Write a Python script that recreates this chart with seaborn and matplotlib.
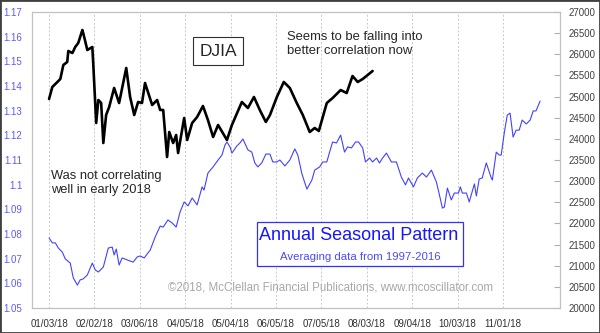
import matplotlib
matplotlib.use("Agg")
import matplotlib.pyplot as plt
import seaborn as sns
import pandas as pd
from matplotlib.patches import Rectangle

# ---- data (x = trading-day number counted from 01/03/18) ----
date_ticks_day = [0, 21, 42, 63, 84, 105, 126, 147, 168, 189, 210]
date_labels = ["01/03/18", "02/02/18", "03/06/18", "04/05/18", "05/04/18", "06/05/18",
               "07/05/18", "08/03/18", "09/04/18", "10/03/18", "11/01/18"]
left_ticks = [1.05, 1.06, 1.07, 1.08, 1.09, 1.1, 1.11, 1.12, 1.13, 1.14, 1.15, 1.16, 1.17]
left_labels = ["1.05", "1.06", "1.07", "1.08", "1.09", "1.1", "1.11", "1.12", "1.13",
               "1.14", "1.15", "1.16", "1.17"]
right_ticks = [20000, 20500, 21000, 21500, 22000, 22500, 23000, 23500, 24000, 24500,
               25000, 25500, 26000, 26500, 27000]

seasonal_day = [0, 1.5, 2.9, 4.3, 6.1, 7.5, 9.8, 11.2, 13.1, 14.4, 15.8, 17.7, 20.0, 21.4,
                22.8, 25.1, 27.4, 29.2, 30.1, 31.1, 32.4, 33.8, 36.1, 38.9, 40.8, 42.1,
                44.0, 46.8, 49.1, 51.4, 52.8, 55.0, 56.9, 58.8, 60.6, 62.5, 64.3, 66.2,
                68.5, 70.8, 71.7, 73.5, 75.9, 78.2, 80.0, 81.4, 82.3, 83.7, 84.6, 86.9,
                88.3, 89.7, 92.0, 93.8, 95.2, 96.6, 98.4, 100.3, 102.2, 103.5, 105.4,
                106.8, 109.1, 111.4, 113.7, 115.1, 116.9, 117.9, 119.3, 121.6, 122.9,
                125.2, 126.6, 128.5, 129.8, 131.2, 133.0, 134.9, 136.7, 138.1, 139.9,
                141.8, 143.2, 145.1, 146.4, 148.3, 149.7, 151.5, 152.9, 154.3, 156.1,
                158.4, 160.7, 163.0, 164.9, 166.3, 168.6, 170.4, 172.7, 174.6, 176.9,
                179.2, 180.1, 182.0, 182.9, 184.3, 186.1, 187.5, 189.4, 190.3, 191.2,
                193.1, 194.4, 196.8, 197.7, 199.0, 200.4, 202.3, 204.6, 205.1, 206.9,
                208.3, 209.2, 210.6, 212.0, 213.3, 214.7, 216.1, 217.5, 218.9, 220.8,
                222.6, 224.0, 225.3, 227.2]
seasonal_val = [1.0784, 1.0764, 1.0764, 1.0743, 1.0727, 1.0699, 1.0682, 1.0622, 1.0593,
                1.0614, 1.0618, 1.0634, 1.0682, 1.0654, 1.0646, 1.0666, 1.0743, 1.0747,
                1.0715, 1.0739, 1.0674, 1.0703, 1.0695, 1.0686, 1.0707, 1.0711, 1.0703,
                1.0735, 1.0788, 1.0832, 1.0828, 1.0857, 1.0845, 1.0828, 1.0889, 1.0930,
                1.0914, 1.0946, 1.0918, 1.0991, 1.0978, 1.1047, 1.1072, 1.1100, 1.1120,
                1.1161, 1.1173, 1.1153, 1.1128, 1.1157, 1.1169, 1.1185, 1.1141, 1.1132,
                1.1088, 1.1072, 1.1088, 1.1124, 1.1124, 1.1092, 1.1092, 1.1100, 1.1076,
                1.1100, 1.1145, 1.1120, 1.1047, 1.1019, 1.0982, 1.1019, 1.1059, 1.1072,
                1.1092, 1.1092, 1.1132, 1.1173, 1.1169, 1.1201, 1.1132, 1.1153, 1.1149,
                1.1173, 1.1173, 1.1149, 1.1092, 1.1108, 1.1092, 1.1108, 1.1088, 1.1108,
                1.1128, 1.1092, 1.1092, 1.1031, 1.0999, 1.1027, 1.0991, 1.1027, 1.1047,
                1.1031, 1.1059, 1.1011, 1.0978, 1.0905, 1.0909, 1.0986, 1.0938, 1.0966,
                1.0966, 1.0991, 1.0966, 1.0966, 1.0930, 1.1003, 1.0954, 1.1023, 1.1027,
                1.1088, 1.1027, 1.1019, 1.1132, 1.1120, 1.1120, 1.1209, 1.1282, 1.1290,
                1.1193, 1.1221, 1.1221, 1.1262, 1.1246, 1.1262, 1.1299, 1.1299, 1.1339]

djia_day = [0, 1.5, 2.9, 5.2, 6.6, 8.4, 8.9, 10.8, 12.1, 13.5, 15.4, 15.8, 17.7, 20.0,
            20.4, 21.8, 22.8, 24.1, 25.1, 26.4, 27.8, 30.1, 32.4, 35.7, 37.5, 39.4, 41.2,
            43.0, 44.4, 47.7, 50.0, 51.4, 52.8, 54.6, 55.6, 57.4, 58.8, 59.7, 62.5, 63.9,
            66.2, 68.5, 71.2, 73.5, 75.9, 78.2, 82.3, 84.6, 89.2, 92.0, 94.8, 97.5, 100.3,
            102.2, 105.4, 108.6, 111.4, 114.6, 117.4, 120.6, 122.9, 124.8, 128.5, 131.2,
            134.9, 137.7, 140.4, 142.8, 145.1, 149.7]
djia_val = [24943, 25226, 25297, 25415, 25747, 25818, 26078, 26030, 26172, 26267, 26574,
            26503, 26101, 26172, 25818, 24375, 24919, 24848, 23902, 24564, 24753, 25203,
            24848, 25676, 24990, 24564, 24872, 24848, 25321, 24801, 24919, 24683, 24683,
            23571, 24162, 23902, 24091, 23665, 24493, 23973, 24375, 24517, 24777, 24446,
            24044, 24328, 23973, 24328, 24872, 24730, 24990, 24683, 24399, 24564, 24990,
            25345, 25203, 24848, 24564, 24162, 24257, 24186, 24848, 24966, 25155, 25084,
            25486, 25345, 25415, 25605]

seasonal = pd.DataFrame({"day": seasonal_day, "value": seasonal_val})
djia = pd.DataFrame({"day": djia_day, "value": djia_val})

sns.set_style("white")
plt.rcParams["font.family"] = ["Liberation Sans", "DejaVu Sans"]

W, H = 600, 333
fig = plt.figure(figsize=(6, 3.33), dpi=100)
ax = fig.add_axes([32 / W, 1 - 308 / H, (560 - 32) / W, (308 - 12) / H])
ax2 = ax.twinx()

blue = "#4141ff"
sns.lineplot(data=seasonal, x="day", y="value", ax=ax, color=blue, lw=0.8)
sns.lineplot(data=djia, x="day", y="value", ax=ax2, color="black", lw=1.9)

ax.set_xlim(-7.9, 236.4)
ax.set_ylim(1.05, 1.17)
ax2.set_ylim(20000, 27000)
ax.set_xlabel("")
ax.set_ylabel("")
ax2.set_ylabel("")

ax.set_xticks(date_ticks_day)
ax.set_xticklabels(date_labels)
ax.set_yticks(left_ticks)
ax.set_yticklabels(left_labels)
ax2.set_yticks(right_ticks)
ax2.set_yticklabels([str(v) for v in right_ticks])

ax.tick_params(axis="x", length=0, pad=8, labelsize=7, labelcolor="#303030")
ax.tick_params(axis="y", length=0, pad=7, labelsize=7, labelcolor="#5a5aff")
ax2.tick_params(axis="y", direction="in", length=4, color="#b0b0b0", pad=6,
                labelsize=7, labelcolor="#404040")

for a in (ax, ax2):
    for s in a.spines.values():
        s.set_color("#c0c0c0")
        s.set_linewidth(0.8)

ax.grid(False)
ax2.grid(False)
for d in date_ticks_day:
    ax.axvline(d, color="#c8c8c8", lw=0.7, ls=(0, (2, 2)), zorder=0)

# annotations
fig.text(218 / W, 1 - 51 / H, "DJIA", fontsize=12.5, ha="center", va="center",
         bbox=dict(boxstyle="square,pad=0.35", fc="white", ec="#303030", lw=0.8))
fig.text(287 / W, 1 - 44 / H, "Seems to be falling into\nbetter correlation now",
         fontsize=9.4, ha="left", va="center", linespacing=1.15)
fig.text(51 / W, 1 - 183 / H, "Was not correlating\nwell in early 2018",
         fontsize=9.3, ha="left", va="center", linespacing=1.25)

fig.patches.append(Rectangle((257 / W, 1 - 266 / H), (463 - 257) / W, (266 - 222) / H,
                             transform=fig.transFigure, fc="white", ec="#3030ff", lw=0.9))
fig.text(359 / W, 1 - 236 / H, "Annual Seasonal Pattern", fontsize=13, color="#1515ff",
         ha="center", va="center")
fig.text(360 / W, 1 - 257 / H, "Averaging data from 1997-2016", fontsize=8.2,
         color="#4a4aff", ha="center", va="center")
fig.text(331 / W, 1 - 288 / H,
         "\u00a92018, McClellan Financial Publications, www.mcoscillator.com",
         fontsize=8.3, color="#a8a8a8", ha="center", va="center")

fig.patches.append(Rectangle((0, 0), 1, 1, transform=fig.transFigure, fill=False,
                             ec="#404040", lw=2))

fig.savefig("out.png", dpi=100)
